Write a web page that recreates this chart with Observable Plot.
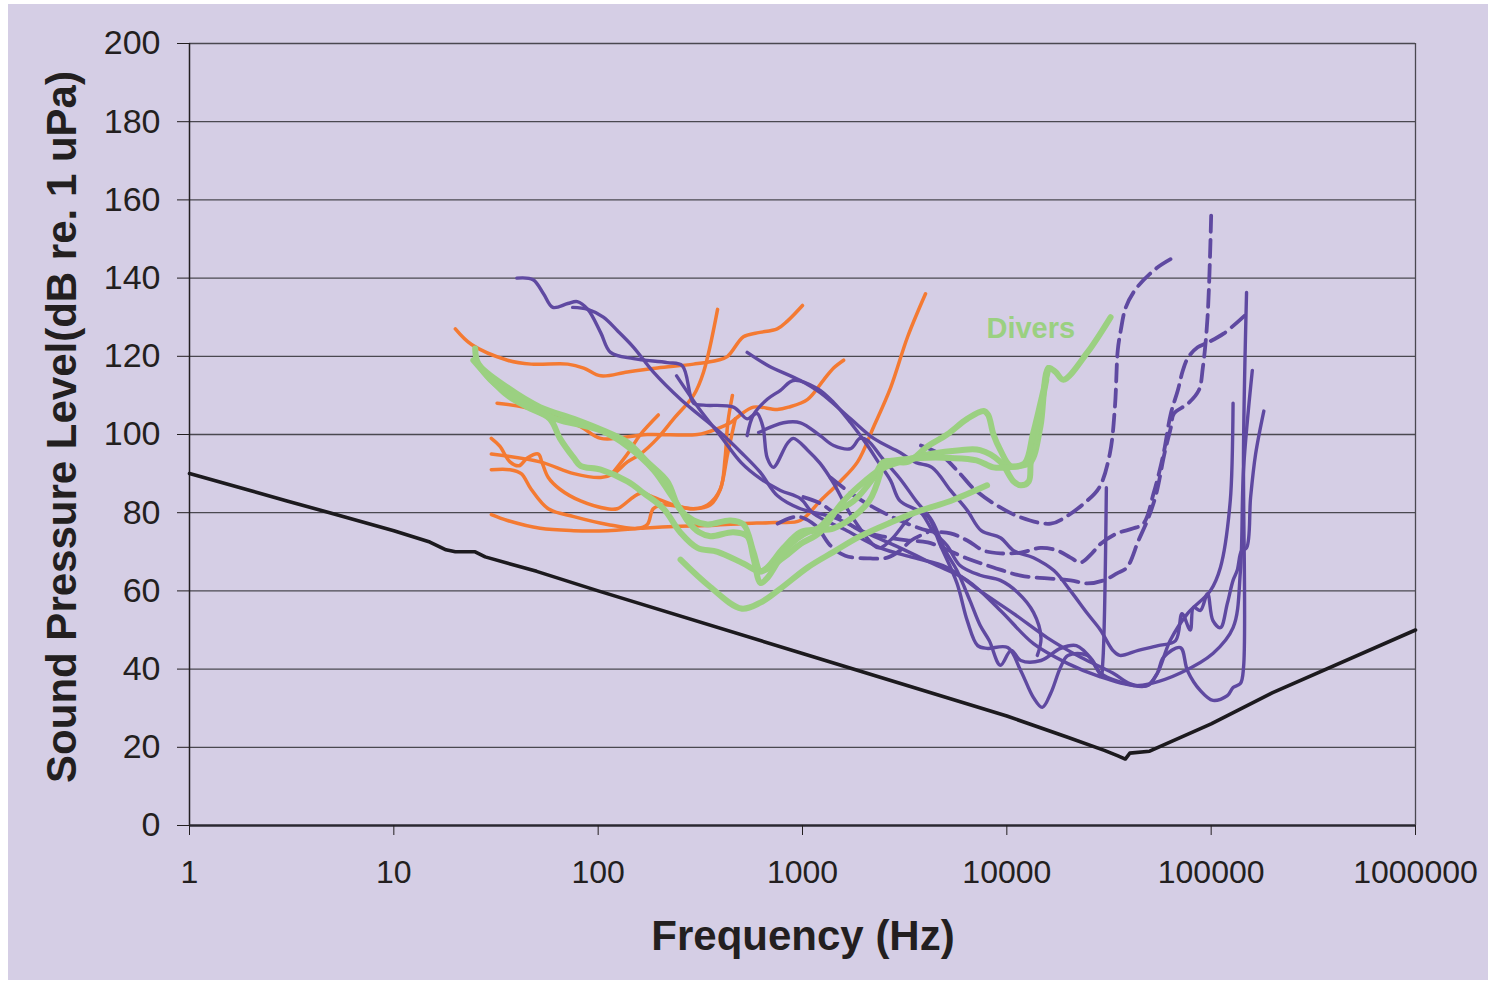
<!DOCTYPE html>
<html>
<head>
<meta charset="utf-8">
<script src="https://cdn.jsdelivr.net/npm/d3@7"></script>
<script src="https://cdn.jsdelivr.net/npm/@observablehq/plot@0.6"></script>
<style>
  html, body { margin: 0; padding: 0; background: #ffffff; }
  #panel { position: absolute; left: 8px; top: 4px; width: 1480px; height: 976px; background: #d5cee5; }
  #panel svg { display: block; }
</style>
</head>
<body>
<div id="panel"></div>
<script>
// ---------- tick labels ----------
const xTicks = [1, 10, 100, 1000, 10000, 100000, 1000000];
const yTicks = [0, 20, 40, 60, 80, 100, 120, 140, 160, 180, 200];

// ---------- texts ----------
const xTitle = "Frequency (Hz)";
const yTitle = "Sound Pressure Level(dB re. 1 uPa)";
const diversLabel = [{ f: 13100, v: 127, text: "Divers" }];

// ---------- series: [frequency Hz, dB re 1 uPa] ----------
const ambient = [[1,90],[2,85.6],[3,83],[5,79.8],[10,75.4],[15,72.5],[18,70.5],[20,70],[25,70],[28,68.7],[50,65],[100,60],[1000,44],[10000,28],[20000,22.5],[30000,19.2],[35000,17.8],[38000,17],[40000,18.5],[50000,19],[100000,26],[200000,34],[1000000,50]];

const fish1 = [[20,127],[24,123],[36,119],[47,118],[71,118],[85,117],[103,115],[139,116],[195,117],[293,118],[384,119],[430,120],[514,125],[600,126],[752,127],[843,129],[1000,133]];
const fish2 = [[30,95],[52,93],[76,90],[103,89],[119,90],[139,93],[161,95],[195,99],[234,104],[293,110],[328,116],[384,132]];
const fish3 = [[30,99],[33,97],[37,93],[41,92],[45,94],[51,95],[53,93],[57,89],[65,86],[82,83],[111,81],[124,81],[161,85],[186,84],[234,82],[293,81],[354,82],[396,86],[430,95],[469,104]];
const fish4 = [[30,91],[37,91],[42,90],[47,86],[57,81],[76,79],[111,77],[155,76],[174,77],[186,81],[209,82],[293,81],[343,82],[396,86],[418,94],[431,103],[454,110]];
const fish5 = [[30,79.5],[36,78],[52,76],[76,75.4],[111,75.4],[161,76],[234,76.5],[343,76.7],[501,77.2],[731,77.5],[975,78],[1220,83],[1530,88],[1860,93],[2230,102],[2700,112],[3270,125],[4000,136]];
const fish6 = [[32,108],[43,107],[58,105],[82,102],[103,99],[174,100],[306,100],[384,101.5],[443,103],[496,105],[575,107],[752,106.4],[855,107],[1060,109],[1270,114],[1420,117],[1590,119]];
const fish7 = [[117,90],[139,95],[161,100],[197,105]];

const divers1 = [[25,122],[26,118],[36,112],[52,107],[76,104],[106,101],[139,98],[174,93],[218,88],[250,81],[293,78],[343,77],[443,78],[514,77],[575,70],[622,65],[672,66],[807,71],[977,75],[1190,76],[1420,80],[1780,83],[2230,89],[2500,93],[3270,93],[4100,97],[5100,100],[6400,104],[7700,106],[8100,105],[8600,100],[9300,96],[10400,92],[11700,92],[13100,93],[14600,102],[16000,117],[17300,116],[18900,114],[24800,121],[32200,130]];
const divers2 = [[24.5,119],[28.7,115],[36,110],[45,107],[58,104],[65,99],[76,94],[82,92],[103,91],[139,88],[167,85],[209,81],[252,75],[306,71],[384,70],[514,67],[624,65],[807,68.5],[977,72],[1220,75],[1530,82],[1910,87],[2400,91],[3000,93],[4200,95],[5900,96],[7400,96],[9300,93],[10800,88],[11700,87],[12800,88],[13100,93],[14000,101],[15600,114]];
const divers3 = [[25,119],[29.7,114],[43,108],[62,104],[103,101],[139,97],[186,91],[224,85],[252,81],[273,78],[312,75],[354,74],[459,75],[536,74],[575,68.5],[624,62],[675,63.4],[843,71],[1060,75],[1420,76],[1780,79],[2120,83],[2400,90],[2450,92.6],[2870,93.4],[3800,94],[5300,94],[7100,93.4],[8600,91.6],[10100,91.6],[12200,92.6],[13400,100],[14600,108],[16000,117]];
const divers4 = [[253,68],[354,61],[501,55.5],[622,57],[780,60.6],[1060,66],[1420,70],[1920,74],[2700,77.5],[3800,80.6],[5300,83],[8000,87]];

const mammal1 = [[40,140],[48,139.6],[54,136],[60,132.5],[71,133.5],[79,134],[89,132],[103,126],[115,121],[149,119.4],[218,118.4],[258,117.6],[293,108],[328,107.5],[459,107],[536,104],[575,105],[600,105.4],[640,102],[672,94],[720,91.6],[843,97.7],[902,99],[1060,96],[1220,92.6],[1420,87.5],[1780,78.3],[2360,71],[2700,73],[3600,80],[4100,79],[4700,72],[5700,62],[6400,52.4],[7200,46],[8000,45.3],[10100,45.5],[11700,39.6],[13500,32.7],[14900,30.2],[16400,33.8],[18300,40.4],[19900,43.5],[24800,43.5],[28700,39],[41700,35.8],[48800,35.8],[54600,39],[58400,43],[70700,45.5],[76600,39.6],[88600,34.5],[102000,32],[120000,33.2],[128000,35.3],[139000,36.3],[144000,40.4],[144000,96.7],[149000,136.3]];
const mammal2 = [[75,132.5],[89,132],[106,130],[124,126.6],[149,122.3],[186,116],[253,109],[312,105],[396,100.5],[501,95.4],[622,90.3],[752,84.4],[977,81],[1420,78.8],[2080,74.7],[3000,71],[4330,67],[6400,62.7],[9300,55],[13500,46.5],[19900,41.4],[28700,38],[41700,35.8],[50600,36.3],[70700,39],[102000,44],[128000,50.6],[139000,65],[144000,91],[159000,116.4]];
const mammal3 = [[536,121],[680,117.6],[977,113.8],[1220,110.7],[1720,104],[2230,99],[3000,95.4],[3600,92.8],[4300,91.6],[5300,85.7],[6400,80.6],[7500,75.4],[9300,73.6],[10800,70.3],[13500,68.5],[17000,65.2],[20500,60],[24800,54.2],[28700,50],[33000,44.8],[35700,43.5],[44000,44.8],[55000,46],[67000,47.3],[72000,54.2],[79000,50],[82000,55.8],[88600,55],[96000,59.3],[102000,52.4],[111000,50.6],[120000,56.8],[128000,62.7],[134000,65.2],[141000,70.3],[149000,71],[156000,84],[165000,95],[181000,106]];
const mammal4 = [[536,99.7],[575,105],[672,109],[780,111.3],[902,113.8],[1180,111.8],[1420,108.2],[1720,103],[2080,97.2],[2360,92.8],[2700,88.2],[3000,83],[3800,80],[4330,75.4],[5100,71.6],[5900,66.5],[7400,64],[9300,62.7],[11300,59.6],[13500,54.5],[14700,48],[14100,43.5]];
const mammal5 = [[610,100.5],[807,103],[977,103],[1220,99.7],[1420,97.2],[1720,96.4],[1910,99],[2080,98.5],[2450,94],[3000,88.7],[3600,83],[4300,78],[5000,70.3],[5700,65.2],[6600,57.5],[7400,51.2],[8200,47.3],[9300,41],[10500,44.8],[11700,42.2],[14700,42.2],[18300,45.3],[21900,46],[26300,42.2],[28900,38.4],[29500,42],[30700,86.4]];
const mammal6 = [[242,115],[312,106.6],[396,99.7],[501,92.8],[622,88.7],[780,85.7],[977,83.6],[1130,79.8],[1650,75.4],[2400,71],[3500,68.5],[5100,66],[7400,60],[10800,54.2],[15800,48],[23000,43],[33000,39],[40000,36.3],[48800,35.8],[54600,39],[63000,47.3],[76600,54.2],[99000,60],[111000,66],[124000,83],[128000,108]];

const dashed1 = [[3800,97.2],[4700,95],[5900,90],[6800,86.4],[8600,82.4],[11700,78.8],[16400,77.2],[19900,79.3],[23900,82.4],[28300,86.4],[31900,95],[33800,107],[34900,121.5],[36100,126.6],[38200,132.5],[42900,137.3],[53900,142.5],[64000,145]];
const dashed2 = [[1010,84],[1220,82.4],[1530,78.8],[1920,75.4],[2600,73.7],[3250,72.9],[4100,72.4],[6400,68.3],[8600,66],[11700,63.9],[15800,63.2],[20500,62.7],[24800,61.9],[29800,62.7],[34600,64.5],[38700,66],[44100,72.9],[49400,78.8],[53900,84.9],[59000,95],[63500,101.8],[65800,105.4],[77000,107.9],[87000,111.3],[91000,117],[96000,130],[100000,156]];
const dashed3 = [[1370,89],[1720,85],[2150,81.8],[3000,78],[4100,75.4],[5300,74.7],[6400,72.9],[7700,70.3],[9300,69.6],[11700,69.8],[14600,71],[17700,70.3],[20500,68.5],[23000,67.3],[26100,69.6],[28700,72],[34600,74.7],[41700,76],[46600,77.2],[52300,85],[58400,95],[63500,105.4],[68700,111.3],[72700,116.4],[77100,119.7],[85900,122.3],[96000,123.5],[115000,125.8],[150000,131]];
const dashed4 = [[755,77.2],[945,79],[1160,76.7],[1370,71.6],[1620,69],[2150,68.3],[2600,68.5],[3000,70.3],[3400,72.9],[4100,75]];

// ---------- build table ----------
const series = [
  ["ambient", "ambient", ambient],
  ["fish1", "fish", fish1], ["fish2", "fish", fish2], ["fish3", "fish", fish3], ["fish4", "fish", fish4],
  ["fish5", "fish", fish5], ["fish6", "fish", fish6], ["fish7", "fish", fish7],
  ["mammal1", "mammal", mammal1], ["mammal2", "mammal", mammal2], ["mammal3", "mammal", mammal3],
  ["mammal4", "mammal", mammal4], ["mammal5", "mammal", mammal5], ["mammal6", "mammal", mammal6],
  ["dashed1", "dashed", dashed1], ["dashed2", "dashed", dashed2], ["dashed3", "dashed", dashed3], ["dashed4", "dashed", dashed4],
  ["divers1", "divers", divers1], ["divers2", "divers", divers2], ["divers3", "divers", divers3], ["divers4", "divers", divers4]
];
const rows = series.flatMap(([id, group, pts]) => pts.map(([f, v]) => ({ id, group, f, v })));
const of = g => rows.filter(r => r.group === g);

const COL = { ambient: "#1c1a1e", fish: "#f47a32", mammal: "#5f49a1", divers: "#9bd081", grid: "#4a4850" };
const CURVE = "catmull-rom";

const chart = Plot.plot({
  width: 1480,
  height: 976,
  marginLeft: 181,
  marginRight: 73,
  marginTop: 39,
  marginBottom: 155,
  style: { background: "transparent", fontFamily: "'Liberation Sans', Arial, sans-serif", color: "#231f20" },
  x: { type: "log", domain: [1, 1000000] },
  y: { domain: [0, 200] },
  marks: [
    Plot.ruleY(yTicks.filter(d => d > 0), { stroke: COL.grid, strokeWidth: 1.3 }),
    Plot.ruleX([1000000], { stroke: COL.grid, strokeWidth: 1.3 }),
    Plot.ruleX([1], { stroke: "#231f20", strokeWidth: 1.5 }),
    Plot.ruleY([0], { stroke: "#2a2830", strokeWidth: 2.5 }),
    Plot.axisY(yTicks, { tickSize: 12, tickPadding: 17, fontSize: 34, label: null, stroke: "#231f20" }),
    Plot.axisX(xTicks, { tickSize: 10, tickPadding: 25, fontSize: 32, label: null, tickFormat: d => String(d), stroke: "#231f20" }),
    Plot.line(of("ambient"), { x: "f", y: "v", z: "id", stroke: COL.ambient, strokeWidth: 3.6 }),
    Plot.line(of("fish"), { x: "f", y: "v", z: "id", stroke: COL.fish, strokeWidth: 3.5, curve: CURVE }),
    Plot.line(of("mammal"), { x: "f", y: "v", z: "id", stroke: COL.mammal, strokeWidth: 3.4, curve: CURVE }),
    Plot.line(of("dashed"), { x: "f", y: "v", z: "id", stroke: COL.mammal, strokeWidth: 3.8, strokeDasharray: "17,8", curve: CURVE }),
    Plot.line(of("divers"), { x: "f", y: "v", z: "id", stroke: COL.divers, strokeWidth: 6, curve: CURVE }),
    Plot.text(diversLabel, { x: "f", y: "v", text: "text", fill: COL.divers, fontSize: 29, fontWeight: "bold" })
  ]
});

const svg = d3.select(chart);
svg.append("text")
  .attr("transform", "translate(68,423) rotate(-90)")
  .attr("text-anchor", "middle")
  .attr("font-family", "'Liberation Sans', Arial, sans-serif")
  .attr("font-size", 42)
  .attr("font-weight", "bold")
  .attr("fill", "#231f20")
  .text(yTitle);
svg.append("text")
  .attr("x", 795)
  .attr("y", 946)
  .attr("text-anchor", "middle")
  .attr("font-family", "'Liberation Sans', Arial, sans-serif")
  .attr("font-size", 42)
  .attr("font-weight", "bold")
  .attr("fill", "#231f20")
  .text(xTitle);

document.getElementById("panel").appendChild(chart);
</script>
</body>
</html>
